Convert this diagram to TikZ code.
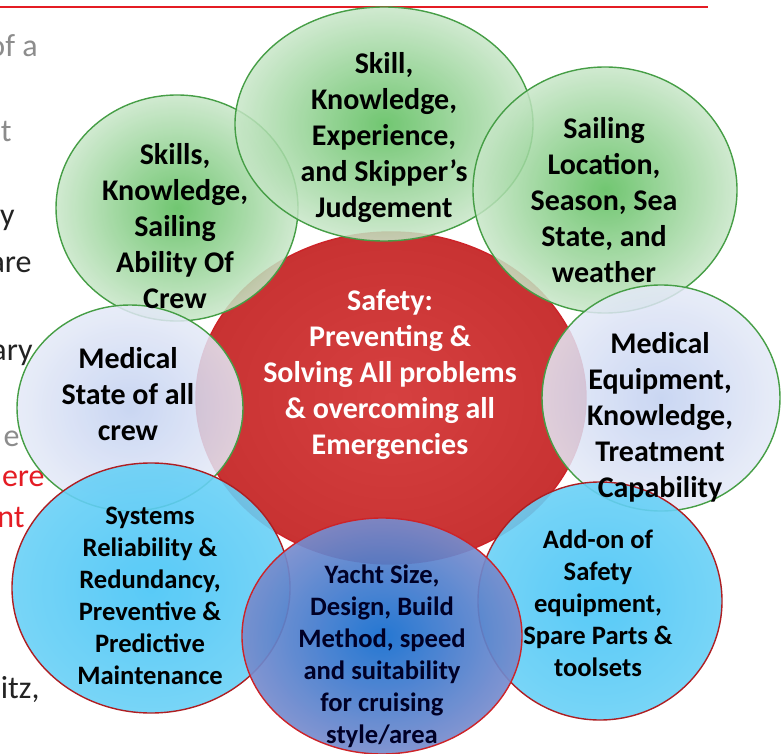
\documentclass[tikz,border=0pt]{standalone}
\usepackage{fontspec}
\setmainfont{Carlito}
\usetikzlibrary{shapes.geometric}

\definecolor{redcore}{RGB}{214,64,64}
\definecolor{redrim}{RGB}{200,50,50}
\definecolor{redline}{RGB}{205,35,40}
\definecolor{greencore}{RGB}{88,188,88}
\definecolor{greenrim}{RGB}{200,230,200}
\definecolor{greenline}{RGB}{70,158,70}
\definecolor{lilaccore}{RGB}{192,207,240}
\definecolor{lilacrim}{RGB}{228,233,247}
\definecolor{cyancore}{RGB}{70,196,246}
\definecolor{cyanrim}{RGB}{105,208,246}
\definecolor{bluecore}{RGB}{18,108,206}
\definecolor{bluerim}{RGB}{120,140,205}
\definecolor{cutgray}{RGB}{140,140,140}
\definecolor{cutdark}{RGB}{35,35,35}
\definecolor{cutred}{RGB}{228,28,36}

\begin{document}
\begin{tikzpicture}[x=0.5pt, y=-0.5pt]
    \tikzstyle{bubble} = [ellipse, inner sep=0pt, line width=0.7pt, fill opacity=0.85]
    \tikzstyle{core} = [bubble, draw=redline, inner color=redcore, outer color=redrim, fill opacity=1]
    \tikzstyle{greenbub} = [bubble, draw=greenline, inner color=greencore, outer color=greenrim]
    \tikzstyle{lilacbub} = [bubble, draw=greenline, inner color=lilaccore, outer color=lilacrim]
    \tikzstyle{cyanbub} = [bubble, draw=redline!85!black, inner color=cyancore, outer color=cyanrim, fill opacity=0.9]
    \tikzstyle{bluebub} = [bubble, draw=redline, inner color=bluecore, outer color=bluerim, fill opacity=0.92]
    \tikzstyle{label} = [align=center, text=black, font=\bfseries\fontsize{15}{18}\selectfont]
    \tikzstyle{small} = [label, font=\bfseries\fontsize{13.3}{16}\selectfont]
    \tikzstyle{cut} = [anchor=base east, inner sep=0pt, font=\fontsize{16}{18}\selectfont]

    \useasboundingbox (0,0) rectangle (781,754);
    \clip (0,0) rectangle (781,754);

    % Title underline
    \draw [cutred, line width=1.4pt] (0,7) -- (708,7);

    % Cut slide text
    \node [cut, text=cutgray] (c1) at (38,57) {of a};
    \node [cut, text=cutgray] (c2) at (12,142) {t};
    \node [cut, text=cutdark] (c3) at (15,226) {y};
    \node [cut, text=cutdark] (c4) at (32,272) {are};
    \node [cut, text=cutdark] (c5) at (33,360) {ary};
    \node [cut, text=cutgray] (c6) at (20,446) {e};
    \node [cut, text=cutred] (c7) at (45,486) {ere};
    \node [cut, text=cutred] (c8) at (25,527) {nt};
    \node [cut, text=cutdark] (c9) at (40,698) {itz,};

    % Bubbles
    \node [core, minimum width=390*0.5pt, minimum height=332*0.5pt] (safety) at (391,398) {};
    \node [greenbub, minimum width=242*0.5pt, minimum height=226*0.5pt] (crew) at (177,208) {};
    \node [greenbub, minimum width=298*0.5pt, minimum height=234*0.5pt] (skipper) at (384,124) {};
    \node [greenbub, minimum width=264*0.5pt, minimum height=246*0.5pt] (sailing) at (605,190) {};
    \node [lilacbub, minimum width=226*0.5pt, minimum height=206*0.5pt] (medstate) at (130,408) {};
    \node [lilacbub, minimum width=238*0.5pt, minimum height=226*0.5pt] (medequip) at (661,398) {};
    \node [cyanbub, minimum width=278*0.5pt, minimum height=250*0.5pt] (systems) at (151,588) {};
    \node [cyanbub, minimum width=244*0.5pt, minimum height=238*0.5pt] (addon) at (600,601) {};
    \node [bluebub, minimum width=280*0.5pt, minimum height=236*0.5pt] (yacht) at (382,636) {};

    % Texts
    \node [label, text=white] (safetytxt) at (390,375) {Safety:\\Preventing \&\\Solving All problems\\\& overcoming all\\Emergencies};
    \node [label] (crewtxt) at (175,226) {Skills,\\Knowledge,\\Sailing\\Ability Of\\Crew};
    \node [label] (skippertxt) at (384,138) {Skill,\\Knowledge,\\Experience,\\and Skipper’s\\Judgement};
    \node [label] (sailingtxt) at (604,200) {Sailing\\Location,\\Season, Sea\\State, and\\weather};
    \node [label] (medstatetxt) at (128,394) {Medical\\State of all\\crew};
    \node [label] (medequiptxt) at (660,417) {Medical\\Equipment,\\Knowledge,\\Treatment\\Capability};
    \node [small] (systemstxt) at (150,596) {Systems\\Reliability \&\\Redundancy,\\Preventive \&\\Predictive\\Maintenance};
    \node [small, text=black!85!blue] (yachttxt) at (382,656) {Yacht Size,\\Design, Build\\Method, speed\\and suitability\\for cruising\\style/area};
    \node [small] (addontxt) at (598,603) {Add-on of\\Safety\\equipment,\\Spare Parts \&\\toolsets};
\end{tikzpicture}
\end{document}
